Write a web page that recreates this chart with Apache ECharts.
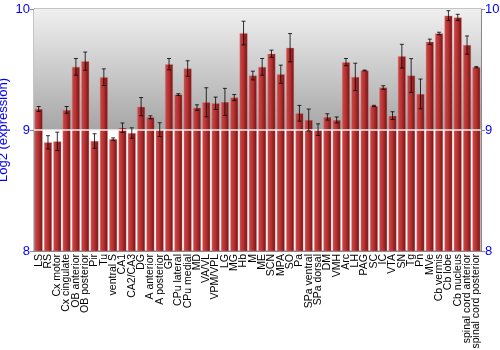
<!DOCTYPE html>
<html><head><meta charset="utf-8">
<script src="https://cdn.jsdelivr.net/npm/echarts@6/dist/echarts.min.js"></script>
<style>html,body{margin:0;padding:0;background:#fff}#c{width:500px;height:350px}</style>
</head><body><div id="c"></div>
<script>
var categories = ["LS","RS","Cx motor","Cx cingulate","OB anterior","OB posterior","Pir","Tu","ventral S","CA1","CA2/CA3","DG","A anterior","A posterior","GP","CPu lateral","CPu medial","MD","VA/VL","VPM/VPL","LG","MG","Hb","M","ME","SCN","MPA","SO","Pa","SPa ventral","SPa dorsal","DM","VMH","Arc","LH","PAG","SC","IC","VTA","SN","Tg","Pn","MVe","Cb vermis","Cb lobe","Cb nucleus","spinal cord anterior","spinal cord posterior"];
var values = [9.174,8.898,8.906,9.166,9.522,9.569,8.909,9.436,8.925,9.019,8.975,9.193,9.105,9.003,9.544,9.293,9.508,9.185,9.229,9.221,9.232,9.268,9.801,9.450,9.522,9.630,9.461,9.680,9.138,9.083,9.003,9.108,9.083,9.561,9.439,9.492,9.199,9.351,9.119,9.610,9.450,9.298,9.729,9.798,9.945,9.931,9.702,9.519];
var errors = [0.020,0.055,0.076,0.028,0.069,0.075,0.060,0.069,0.010,0.039,0.043,0.075,0.012,0.057,0.047,0.007,0.064,0.023,0.120,0.051,0.112,0.025,0.098,0.036,0.069,0.030,0.075,0.117,0.065,0.090,0.048,0.026,0.025,0.030,0.113,0.003,0.005,0.015,0.032,0.098,0.140,0.123,0.022,0.010,0.041,0.025,0.075,0.005];
var yTicks = [8, 9, 10];

var chart = echarts.init(document.getElementById('c'), null, {renderer:'canvas'});
var errData = values.map(function(v,i){return [i, v-errors[i], v+errors[i]];});
var font = 'Liberation Sans, Arial, sans-serif';
var axisStyle = {
  type:'value', min:yTicks[0], max:yTicks[yTicks.length-1], interval:1,
  axisLine:{show:true, lineStyle:{color:'#888', width:1}},
  axisTick:{show:true, length:4, lineStyle:{color:'#888'}},
  splitLine:{show:false},
  axisLabel:{color:'#0000ff', fontSize:13, fontFamily:font, margin:4}
};
var option = {
  animation:false,
  grid:{left:34, right:19, top:9, bottom:99, show:true, borderColor:'#888', borderWidth:1, backgroundColor:'transparent', containLabel:false, outerBoundsMode:'none'},
  xAxis:{type:'category', data:categories,
    axisLine:{show:true, lineStyle:{color:'#888'}}, axisTick:{show:false},
    axisLabel:{rotate:90, interval:0, color:'#000', fontSize:10.5, fontFamily:font, margin:3}},
  yAxis:[
    Object.assign({}, axisStyle, {position:'left', name:'Log2 (expression)', nameLocation:'middle', nameGap:24, nameMoveOverlap:false,
      nameTextStyle:{color:'#0000ff', fontSize:13, fontFamily:font}}),
    Object.assign({}, axisStyle, {position:'right'})
  ],
  series:[
    {type:'line', data:[], yAxisIndex:0, z:0, silent:true,
      markArea:{silent:true, itemStyle:{color:new echarts.graphic.LinearGradient(0,0,0,1,[{offset:0,color:'#f0f0f0'},{offset:1,color:'#a6a6a6'}])},
        data:[[{yAxis:10},{yAxis:9}]]},
      markLine:{silent:true, symbol:'none', label:{show:false}, lineStyle:{color:'#f2f2f2', width:1.5, type:'solid', opacity:1},
        data:[{yAxis:9}]}
    },
    {type:'bar', data:values, barCategoryGap:'14%', yAxisIndex:0, z:2,
      itemStyle:{
        color:new echarts.graphic.LinearGradient(0,0,1,0,[{offset:0,color:'#cc4a4a'},{offset:0.45,color:'#b83232'},{offset:1,color:'#6e1212'}]),
        borderColor:'rgba(225,130,130,0.6)', borderWidth:0.6}
    },
    {type:'custom', data:errData, yAxisIndex:0, z:5,
      renderItem:function(params, api){
        var x = api.value(0);
        var lo = api.coord([x, api.value(1)]);
        var hi = api.coord([x, api.value(2)]);
        var w = 2;
        var st = {stroke:'rgba(0,0,0,0.8)', lineWidth:1};
        return {type:'group', children:[
          {type:'line', shape:{x1:lo[0], y1:lo[1], x2:hi[0], y2:hi[1]}, style:st},
          {type:'line', shape:{x1:lo[0]-w, y1:lo[1], x2:lo[0]+w, y2:lo[1]}, style:st},
          {type:'line', shape:{x1:hi[0]-w, y1:hi[1], x2:hi[0]+w, y2:hi[1]}, style:st}
        ]};
      }
    }
  ]
};
chart.setOption(option);
</script></body></html>
